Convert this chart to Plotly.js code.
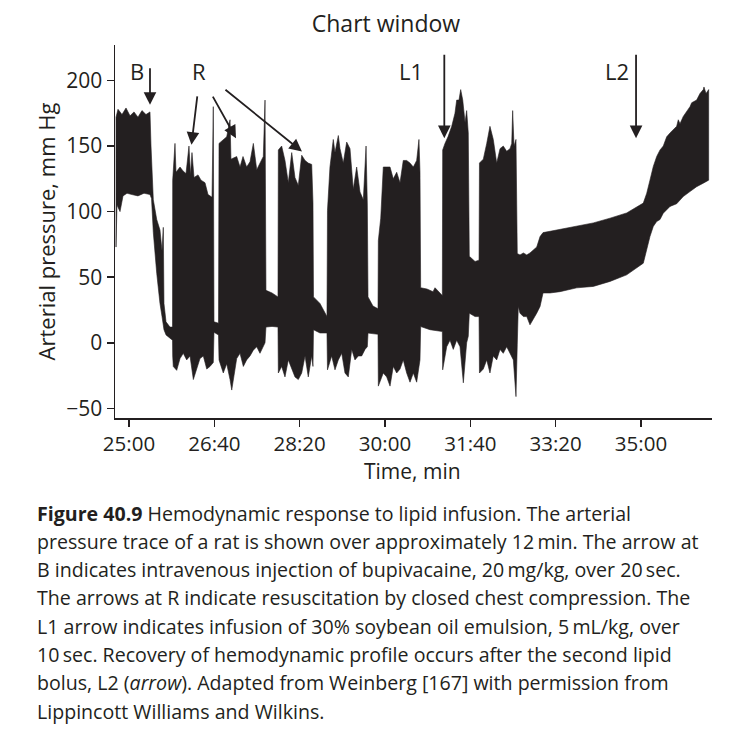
<!DOCTYPE html>
<html><head><meta charset="utf-8">
<script src="https://cdn.plot.ly/plotly-3.0.1.min.js"></script>
<style>html,body{margin:0;padding:0;background:#fff}</style>
</head><body><div id="chart" style="width:729px;height:732px"></div>
<script>
// Time in seconds, pressure in mm Hg (upper and lower envelope of the dense pressure trace)
const upperTime = [1484.8,1487.1,1491.8,1496.5,1501.2,1505.9,1510.5,1515.2,1519.9,1524.6,1525.8,1528.5,1532.5,1536.3,1538.7,1540.2,1541.0,1543.4,1548.0,1551.0,1551.2,1553.9,1555.1,1559.8,1563.3,1566.8,1570.3,1572.1,1573.8,1576.2,1580.9,1584.4,1589.1,1592.6,1597.3,1598.8,1599.6,1604.9,1605.5,1610.2,1614.5,1618.4,1619.5,1626.2,1630.1,1633.6,1637.9,1641.8,1645.7,1649.7,1653.5,1657.4,1659.4,1660.5,1667.6,1674.6,1675.0,1678.9,1682.8,1686.7,1690.7,1694.5,1698.4,1702.4,1706.3,1710.1,1714.1,1715.6,1716.2,1723.8,1732.0,1732.6,1735.5,1739.4,1741.4,1745.3,1747.3,1751.1,1755.1,1759.0,1762.8,1766.8,1770.7,1774.6,1777.8,1779.3,1780.1,1785.9,1791.8,1792.2,1795.0,1798.0,1802.0,1805.9,1809.7,1813.7,1817.6,1821.4,1825.4,1829.3,1833.2,1837.1,1839.8,1841.0,1841.8,1849.2,1856.3,1858.6,1867.2,1867.6,1870.3,1873.8,1878.2,1882.0,1884.0,1886.7,1888.7,1891.1,1893.8,1895.7,1897.6,1898.8,1905.5,1910.2,1910.7,1915.2,1919.2,1923.0,1926.9,1930.9,1934.8,1938.6,1942.6,1946.5,1948.5,1949.6,1951.2,1953.5,1955.0,1958.2,1962.1,1966.1,1969.9,1973.8,1977.8,1981.7,1985.2,1993.4,2005.1,2024.7,2044.1,2063.7,2083.2,2102.7,2106.7,2110.5,2114.4,2118.4,2122.3,2126.1,2130.1,2134.0,2141.8,2143.7,2145.7,2149.5,2157.4,2159.4,2165.2,2169.1,2173.0,2173.8,2176.2,2179.3];
const upperPressure = [172,178,174,179,173,176,172,177,174,176,150,109,94,86,70,88,30,16,12,12,124,152,130,134,131,129,150,128,145,126,128,124,122,113,111,180,16,15,152,155,157,170,140,142,134,142,134,138,152,132,137,142,185,40,38,35,147,150,139,122,145,126,120,143,139,137,136,107,35,30,20,101,134,155,145,158,148,137,153,148,117,134,115,109,150,105,35,28,26,78,95,134,134,134,125,130,122,139,139,137,134,139,155,130,42,41,39,42,36,147,152,157,165,175,185,185,193,185,168,177,160,66,62,63,137,140,152,165,155,137,148,150,146,148,152,177,150,155,68,67,68.5,67,68.5,71,73,81,84,85,86.5,88.7,91.4,95,99,106.5,114,124,134.4,142,147,150,157,160,165,170,167,172.5,180,183,185,190,193,195,190,193];
const lowerTime = [1484.8,1485.9,1489.5,1493.0,1497.7,1503.5,1510.5,1517.6,1524.6,1526.4,1528.5,1532.5,1536.3,1538.7,1541.0,1543.4,1551.0,1551.2,1551.9,1555.9,1559.8,1563.6,1567.6,1571.5,1575.4,1579.3,1583.2,1587.1,1591.1,1594.9,1598.8,1599.6,1604.9,1605.5,1610.5,1614.5,1618.4,1620.4,1626.2,1630.1,1634.0,1637.9,1641.8,1645.7,1649.7,1653.5,1657.4,1659.4,1660.5,1667.6,1674.6,1675.0,1678.9,1682.8,1686.7,1690.7,1694.5,1698.4,1702.4,1706.3,1710.1,1714.1,1715.6,1716.2,1723.8,1732.0,1732.6,1737.5,1741.4,1745.3,1749.3,1753.1,1757.0,1761.0,1764.8,1768.7,1772.7,1776.6,1779.3,1780.1,1791.8,1792.2,1798.0,1802.0,1805.9,1809.7,1813.7,1817.6,1821.4,1825.4,1829.3,1833.2,1837.1,1841.0,1841.8,1852.7,1867.2,1867.6,1872.3,1876.2,1880.0,1884.0,1887.9,1891.8,1895.7,1897.6,1898.8,1905.5,1910.2,1910.7,1915.2,1919.2,1923.0,1926.9,1930.9,1934.8,1938.6,1942.6,1946.5,1950.4,1953.5,1955.0,1956.2,1958.2,1962.1,1966.1,1969.9,1973.8,1977.8,1981.7,1985.2,1993.4,2005.1,2024.7,2044.1,2063.7,2083.2,2102.7,2106.7,2110.5,2114.4,2118.4,2122.3,2126.1,2134.0,2141.8,2149.5,2157.4,2165.2,2173.0,2179.3];
const lowerPressure = [73,105,100,112,114,113,112,114,113,110,84,53,30,20,10,6,2,-10,-18,-21,-12,-8,-13,-10,-28,-20,-12,-10,-20,-18,-15,8,6,-13,-23,-16,-28,-36,-12,-8,-18,-13,-10,-5.6,-3,-8,-3,0,12,12.5,12,-23,-18,-26,-13,-20,-26,-28,-23,-10,-26,-10,-18,10,7.5,7.5,-20.6,-10,-20.6,-13,-8,-23,-26,-5,-13,-10,-10,-5,-3,7.4,6.5,-33,-23,-26,-33,-18,-23,-20,-13,-23,-30,-23,-30,-13,12.4,10,8.6,-20.6,-3,2,-5,2,-3,-30.5,0,5,22.6,20,20,-23,-20,-13,-23,-10,-13,-5,-8,-3,-8,-13,-41,-1,27.7,22.6,20,20,13.7,17.5,22.6,27.7,38,38,39,41.9,43,46.8,51.8,60.7,71,81,88.7,92.5,94,98.8,104,106,111.5,115.3,119,121.7,124];

const tickSeconds = [1500,1600,1700,1800,1900,2000,2100];
const tickLabels = ['25:00','26:40','28:20','30:00','31:40','33:20','35:00'];
const markerLabels = ['B','R','L1','L2'];
const captionLines = [
  '<b>Figure 40.9</b> Hemodynamic response to lipid infusion. The arterial',
  'pressure trace of a rat is shown over approximately 12\u2009min. The arrow at',
  'B indicates intravenous injection of bupivacaine, 20\u2009mg/kg, over 20\u2009sec.',
  'The arrows at R indicate resuscitation by closed chest compression. The',
  'L1 arrow indicates infusion of 30% soybean oil emulsion, 5\u2009mL/kg, over',
  '10\u2009sec. Recovery of hemodynamic profile occurs after the second lipid',
  'bolus, L2 (<i>arrow</i>). Adapted from Weinberg [167] with permission from',
  'Lippincott Williams and Wilkins.'
];

const INK = '#231f20';
const FONT = 'Open Sans, Noto Sans, sans-serif';

const polyX = upperTime.concat(lowerTime.slice().reverse());
const polyY = upperPressure.concat(lowerPressure.slice().reverse());
polyX.push(upperTime[0]); polyY.push(upperPressure[0]);

const traces = [{
  type: 'scatter', mode: 'lines', x: polyX, y: polyY,
  fill: 'toself', fillcolor: INK,
  line: {color: INK, width: 0.6},
  hoverinfo: 'skip', showlegend: false
}];

const annotations = [];
const letterPos = [[137,71],[199,71],[411,71],[617,71]];
markerLabels.forEach((lab, i) => {
  annotations.push({xref:'paper', yref:'paper', x:(letterPos[i][0]-115)/597, y:(418-letterPos[i][1])/373,
    text: lab, showarrow:false, xanchor:'center', yanchor:'middle',
    font:{family:FONT, size:22, color:INK}});
});
const arrowDefs = [
  {x:1524.6, y:181.4, ax:0, ay:-38},
  {x:1573.2, y:150.9, ax:6, ay:-50},
  {x:1625.4, y:156.0, ax:-24, ay:-43},
  {x:1702.7, y:145.8, ax:-78, ay:-63},
  {x:1869.5, y:156.0, ax:0, ay:-85},
  {x:2094.2, y:156.0, ax:0, ay:-85}
];
arrowDefs.forEach(a => annotations.push({
  xref:'x', yref:'y', x:a.x, y:a.y, ax:a.ax, ay:a.ay, axref:'pixel', ayref:'pixel',
  text:'', showarrow:true, arrowhead:2, arrowsize:1.4, arrowwidth:1.8, arrowcolor:INK, standoff:0
}));
// x-axis title placed as annotation for exact vertical position
annotations.push({xref:'paper', yref:'paper', x:(412-115)/597, y:(418-471)/373,
  text:'Time, min', showarrow:false, xanchor:'center', yanchor:'middle',
  font:{family:FONT, size:21, color:INK}});
captionLines.forEach((line, i) => {
  const ypix = 513 + i*28.3;
  annotations.push({xref:'paper', yref:'paper', x:(35-115)/597, y:(418-ypix)/373,
    text: line, showarrow:false, xanchor:'left', yanchor:'middle', align:'left',
    font:{family:FONT, size:19.6, color:INK}});
});

const layout = {
  width: 729, height: 732,
  margin: {l:115, r:17, t:45, b:314},
  paper_bgcolor:'#fff', plot_bgcolor:'#fff',
  font: {family: FONT, color: INK, size: 20},
  title: {text:'Chart window', x:386/729, xref:'container', xanchor:'center',
          y:1-24/732, yref:'container', yanchor:'middle', font:{family:FONT, size:23, color:INK}},
  xaxis: {
    range:[1483.6, 2183.2], tickmode:'array', tickvals:tickSeconds, ticktext:tickLabels,
    showgrid:false, zeroline:false, showline:true, linecolor:INK, linewidth:1.5,
    ticks:'outside', ticklen:7, tickwidth:1.5, tickcolor:INK,
    tickfont:{family:FONT, size:20.5, color:INK}
  },
  yaxis: {
    range:[-57.3, 227.0], tickvals:[-50,0,50,100,150,200],
    showgrid:false, zeroline:false, showline:true, linecolor:INK, linewidth:1.5,
    ticks:'outside', ticklen:7, tickwidth:1.5, tickcolor:INK,
    tickfont:{family:FONT, size:21, color:INK},
    title:{text:'Arterial pressure, mm Hg', font:{family:FONT, size:22, color:INK}, standoff:4}
  },
  annotations: annotations,
  showlegend:false
};

Plotly.newPlot('chart', traces, layout, {staticPlot:true, displayModeBar:false});
</script></body></html>
